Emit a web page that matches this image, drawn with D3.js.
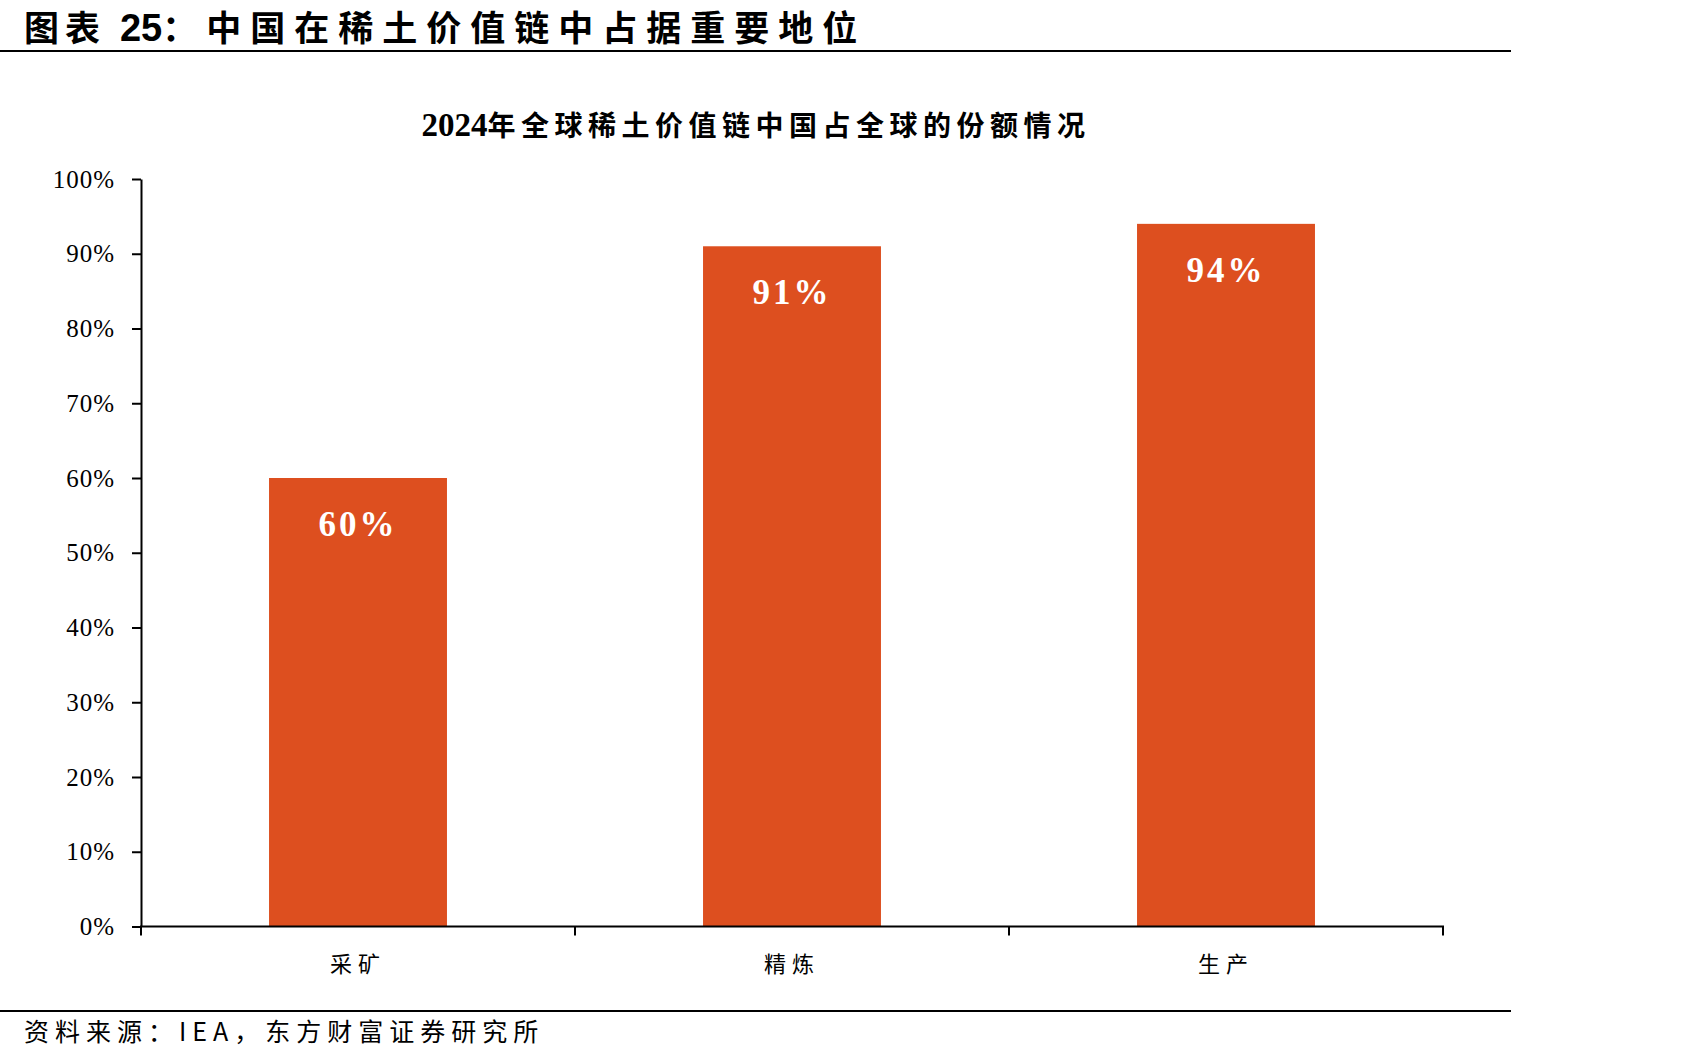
<!DOCTYPE html>
<html>
<head>
<meta charset="utf-8">
<script src="https://cdn.jsdelivr.net/npm/d3@7"></script>
<style>
  html, body { margin: 0; padding: 0; background: #fff; }
</style>
</head>
<body>
<div id="chart"></div>
<script>
const categories = ["采矿", "精炼", "生产"]
const shares = [60, 91, 94]
const yTicks = [0, 10, 20, 30, 40, 50, 60, 70, 80, 90, 100]

const heading = "中国在稀土价值链中占据重要地位"
const chartTitle = "年全球稀土价值链中国占全球的份额情况"
const source = "资料来源：IEA，东方财富证券研究所"

const width = 1701, height = 1063
const margin = {top: 179, right: 258, bottom: 137, left: 141}
const barColor = "#dd4f1f"
const serif = "'Liberation Serif', 'Times New Roman', serif"
const cjk = "'Noto Sans CJK SC', sans-serif"

const svg = d3.select("#chart").append("svg")
  .attr("width", width)
  .attr("height", height)

// heading + rules
const head = svg.append("text")
  .attr("x", 24)
  .attr("y", 41)
  .attr("font-family", cjk)
  .attr("font-weight", 700)
  .attr("font-size", 35)
  .attr("fill", "#000")
head.append("tspan").attr("letter-spacing", 6).text("图表 ")
head.append("tspan").attr("font-family", "'Liberation Sans', Arial, sans-serif").attr("font-size", 38).text("25")
head.append("tspan").attr("letter-spacing", 9).text("：" + heading)

svg.append("line")
  .attr("x1", 0).attr("x2", 1511)
  .attr("y1", 51).attr("y2", 51)
  .attr("stroke", "#000").attr("stroke-width", 2.2)

svg.append("line")
  .attr("x1", 0).attr("x2", 1511)
  .attr("y1", 1011).attr("y2", 1011)
  .attr("stroke", "#000").attr("stroke-width", 2.2)

svg.append("text")
  .attr("x", 24)
  .attr("y", 1041)
  .attr("font-family", cjk)
  .attr("font-size", 25)
  .attr("letter-spacing", 6)
  .attr("fill", "#000")
  .text(source)

// chart title
const title = svg.append("text")
  .attr("x", 756)
  .attr("y", 136)
  .attr("text-anchor", "middle")
  .attr("font-weight", 700)
  .attr("fill", "#000")
title.append("tspan")
  .attr("font-family", serif)
  .attr("font-size", 33)
  .text("2024")
title.append("tspan")
  .attr("font-family", cjk)
  .attr("font-size", 28)
  .attr("letter-spacing", 5.5)
  .text(chartTitle)

// scales
const x = d3.scaleBand(categories, [margin.left, width - margin.right])
  .paddingInner(0.59)
  .paddingOuter(0.295)

const y = d3.scaleLinear([0, 100], [height - margin.bottom + 0.5, margin.top])

// bars
svg.append("g")
  .selectAll("rect")
  .data(shares)
  .join("rect")
    .attr("x", (d, i) => x(categories[i]))
    .attr("y", d => y(d))
    .attr("width", x.bandwidth())
    .attr("height", d => y(0) - y(d))
    .attr("fill", barColor)

// bar labels
svg.append("g")
  .attr("font-family", serif)
  .attr("font-weight", 700)
  .attr("font-size", 35)
  .attr("fill", "#fff")
  .attr("text-anchor", "middle")
  .selectAll("text")
  .data(shares)
  .join("text")
    .attr("x", (d, i) => x(categories[i]) + x.bandwidth() / 2)
    .attr("y", d => y(d) + 58)
    .attr("letter-spacing", 3)
    .text(d => d + "%")

// y axis
svg.append("g")
  .attr("transform", `translate(${margin.left},0)`)
  .call(d3.axisLeft(y)
    .tickValues(yTicks)
    .tickFormat(d => d + "%")
    .tickSize(9)
    .tickPadding(17)
    .tickSizeOuter(0))
  .call(g => g.select(".domain").attr("stroke-width", 2))
  .call(g => g.selectAll(".tick line").attr("stroke-width", 2))
  .call(g => g.selectAll("text")
    .attr("font-family", serif)
    .attr("font-size", 25)
    .attr("letter-spacing", 1)
    .attr("fill", "#000"))

// x axis with ticks at category boundaries
const xAxis = svg.append("g")
  .attr("transform", `translate(0,${y(0)})`)

xAxis.append("line")
  .attr("x1", margin.left - 1).attr("x2", width - margin.right + 1)
  .attr("stroke", "#000").attr("stroke-width", 2)

const step = x.step()
const edges = d3.range(categories.length + 1).map(i => margin.left + i * step)
xAxis.selectAll(".edge")
  .data(edges)
  .join("line")
    .attr("class", "edge")
    .attr("x1", d => d).attr("x2", d => d)
    .attr("y1", 0).attr("y2", 9)
    .attr("stroke", "#000").attr("stroke-width", 2)

xAxis.selectAll(".cat")
  .data(categories)
  .join("text")
    .attr("class", "cat")
    .attr("x", d => x(d) + x.bandwidth() / 2)
    .attr("y", 45)
    .attr("text-anchor", "middle")
    .attr("font-family", cjk)
    .attr("font-size", 22)
    .attr("letter-spacing", 6)
    .attr("fill", "#000")
    .text(d => d)
</script>
</body>
</html>
